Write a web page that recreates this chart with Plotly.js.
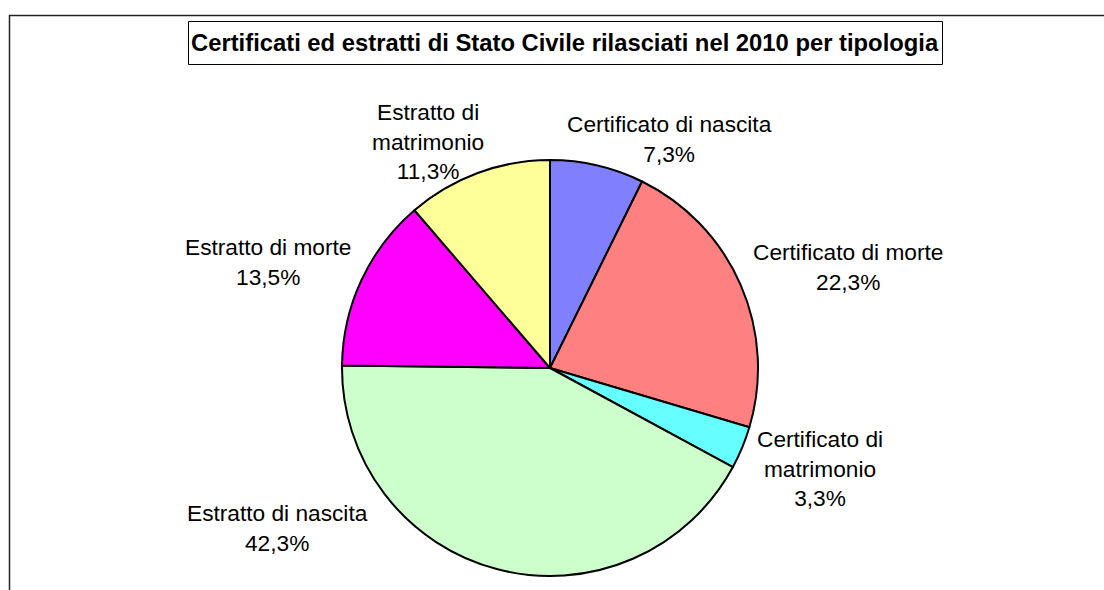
<!DOCTYPE html>
<html>
<head>
<meta charset="utf-8">
<script src="https://cdn.plot.ly/plotly-3.0.1.min.js"></script>
<style>html,body{margin:0;padding:0;background:#fff;}#chart{width:1104px;height:590px;}</style>
</head>
<body>
<div id="chart"></div>
<script>
var categories = ["Certificato di nascita", "Certificato di morte", "Certificato di matrimonio", "Estratto di nascita", "Estratto di morte", "Estratto di matrimonio"];
var values = [7.3, 22.3, 3.3, 42.3, 13.5, 11.3];
var labelLines = [["Certificato di nascita"], ["Certificato di morte"], ["Certificato di", "matrimonio"], ["Estratto di nascita"], ["Estratto di morte"], ["Estratto di", "matrimonio"]];
var colors = ["#8080FF", "#FF8080", "#66FFFF", "#CCFFCC", "#FF00FF", "#FFFF99"];
var titleText = "Certificati ed estratti di Stato Civile rilasciati nel 2010 per tipologia";

var W = 1104, H = 590;
var cx = 550, cy = 368, r = 208;
// label anchor centers (pixels)
var labelPos = [[669, 139], [848, 267], [820, 468], [277, 528], [268, 262], [428, 141]];

var trace = {
  type: "pie",
  labels: categories,
  values: values,
  sort: false,
  direction: "clockwise",
  rotation: 0,
  textinfo: "none",
  hoverinfo: "label+percent",
  marker: {colors: colors, line: {color: "#000", width: 2}},
  domain: {x: [(cx - r) / W, (cx + r) / W], y: [1 - (cy + r) / H, 1 - (cy - r) / H]},
  showlegend: false
};

var annotations = categories.map(function (c, i) {
  var txt = labelLines[i].join("<br>") + "<br>" + values[i].toFixed(1).replace(".", ",") + "%";
  return {
    xref: "paper", yref: "paper",
    x: labelPos[i][0] / W, y: 1 - labelPos[i][1] / H,
    xanchor: "center", yanchor: "middle",
    text: txt, showarrow: false, align: "center",
    font: {family: "Liberation Sans, Arial, sans-serif", size: 22.7, color: "#000"}
  };
});
annotations.push({
  xref: "paper", yref: "paper",
  x: 565 / W, y: 1 - 43 / H,
  xanchor: "center", yanchor: "middle",
  text: "<b>" + titleText + "</b>", showarrow: false,
  font: {family: "Liberation Sans, Arial, sans-serif", size: 23.8, color: "#000"}
});

var layout = {
  width: W, height: H,
  margin: {l: 0, r: 0, t: 0, b: 0},
  paper_bgcolor: "#fff",
  annotations: annotations,
  shapes: [
    {type: "rect", xref: "paper", yref: "paper", x0: 9.5 / W, x1: 1120 / W, y0: 1 - 620 / H, y1: 1 - 15.5 / H, line: {color: "#222", width: 1.5}, fillcolor: "rgba(0,0,0,0)"},
    {type: "rect", xref: "paper", yref: "paper", x0: 188.5 / W, x1: 942.5 / W, y0: 1 - 64.5 / H, y1: 1 - 21.5 / H, line: {color: "#000", width: 1}, fillcolor: "rgba(0,0,0,0)"}
  ]
};

Plotly.newPlot("chart", [trace], layout, {displayModeBar: false, staticPlot: true});
</script>
</body>
</html>
